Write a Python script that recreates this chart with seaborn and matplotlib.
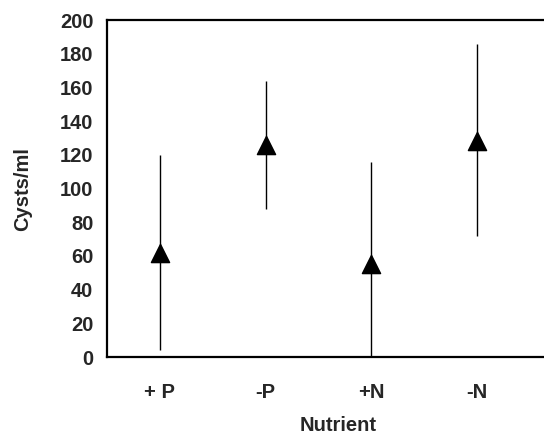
import matplotlib
matplotlib.use("Agg")
import matplotlib.pyplot as plt
import seaborn as sns
import pandas as pd

# values
nutrients = ["+ P", "-P", "+N", "-N"]
cysts_mean = [62, 126, 55, 128]
cysts_low = [4, 88, 0, 72]
cysts_high = [120, 164, 116, 186]

df = pd.DataFrame({"Nutrient": nutrients, "Cysts/ml": cysts_mean,
                   "low": cysts_low, "high": cysts_high})

sns.set_style("white")
plt.rcParams["font.family"] = ["Liberation Sans", "DejaVu Sans"]

fig = plt.figure(figsize=(5.44, 4.36), dpi=100)
ax = fig.add_axes([0.197, 0.181, 0.85, 0.773])

ax.vlines(range(len(df)), df["low"], df["high"], color="black", lw=1, zorder=2)
sns.scatterplot(data=df, x="Nutrient", y="Cysts/ml", marker="^", s=170,
                color="black", edgecolor="black", ax=ax, zorder=3)

ax.set_ylim(0, 200)
ax.set_yticks(range(0, 201, 20))
ax.set_xlim(-0.5, 3.88)
ax.set_xticks([-0.5, 0.5, 1.5, 2.5, 3.5], minor=True)
ax.tick_params(axis="x", which="major", length=0, pad=19)
ax.tick_params(axis="x", which="minor", direction="inout", length=9, width=1, color="black")
ax.tick_params(axis="y", direction="inout", length=10, width=1, color="black", pad=5)
ax.tick_params(labelsize=14.5)
for lab in ax.get_xticklabels() + ax.get_yticklabels():
    lab.set_fontweight("bold")

ax.set_xlabel("Nutrient", fontsize=14.5, fontweight="bold", labelpad=10)
ax.set_ylabel("Cysts/ml", fontsize=14.5, fontweight="bold", labelpad=20)

for side in ["left", "bottom", "top"]:
    ax.spines[side].set_color("black")
    ax.spines[side].set_linewidth(1.6)
ax.spines["right"].set_visible(False)

fig.savefig("out.png", dpi=100)
